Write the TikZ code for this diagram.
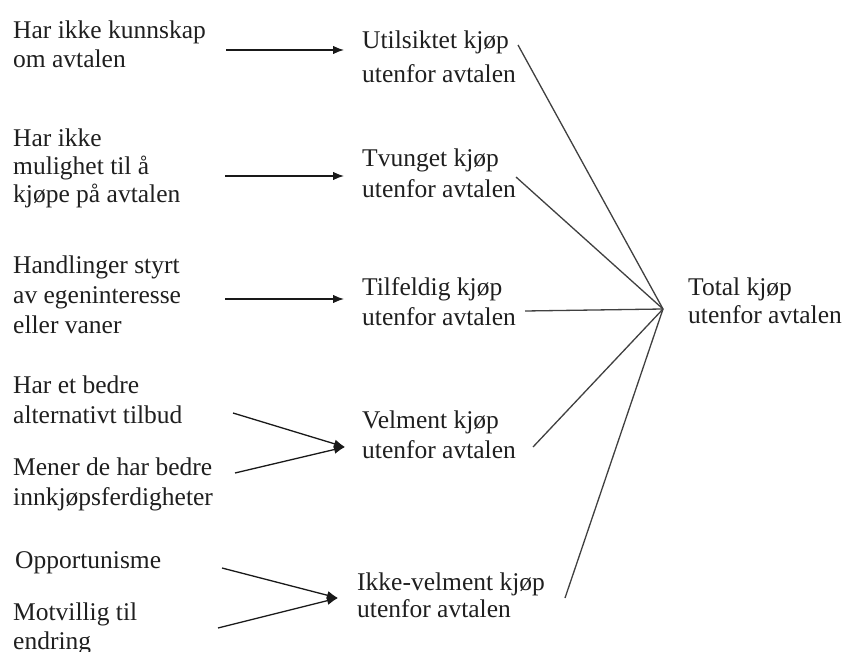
\documentclass[tikz,border=0pt]{standalone}
\usepackage{fontspec}
\setmainfont{Liberation Serif}
\usetikzlibrary{arrows.meta}
\tikzset{
  txt/.style={anchor=base west, inner sep=0pt, align=left, text=black!88,
    font=\fontsize{25.5}{30}\selectfont},
  arr/.style={line width=1.3pt, black!90, -{Latex[length=11pt,width=8.5pt]}},
  conn/.style={line width=1.3pt, black!75},
}
\begin{document}
\begin{tikzpicture}[x=1pt,y=-1pt]
\useasboundingbox[fill=white] (0,0) rectangle (845,652);
% left column (anchor = baseline of last line)
\node[txt] (L1) at (13,68) {Har ikke kunnskap\\[-1pt]om avtalen};
\node[txt] (L2) at (13,203) {Har ikke\\[-2pt]mulighet til å\\[-2pt]kjøpe på avtalen};
\node[txt] (L3) at (13,333) {Handlinger styrt\\av egeninteresse\\eller vaner};
\node[txt] (L4a) at (13,423) {Har et bedre\\alternativt tilbud};
\node[txt] (L4b) at (13,505) {Mener de har bedre\\innkjøpsferdigheter};
\node[txt] (L5a) at (15,568) {Opportunisme};
\node[txt] (L5b) at (13,649) {Motvillig til\\[-1pt]endring};
% middle column
\node[txt] (M1) at (362,83) {Utilsiktet kjøp\\[4pt]utenfor avtalen};
\node[txt] (M2) at (362,198) {Tvunget kjøp\\[1pt]utenfor avtalen};
\node[txt] (M3) at (362,325) {Tilfeldig kjøp\\utenfor avtalen};
\node[txt] (M4) at (362,458) {Velment kjøp\\utenfor avtalen};
\node[txt] (M5) at (357,617) {Ikke-velment kjøp\\[-3pt]utenfor avtalen};
% right
\node[txt] (T) at (688,323) {Total kjøp\\[-2pt]utenfor avtalen};
% connector end points
\coordinate (L1o) at (226,50);   \coordinate (M1i) at (344,50);
\coordinate (L2o) at (225,176);  \coordinate (M2i) at (344,176);
\coordinate (L3o) at (225,299);  \coordinate (M3i) at (344,299);
\coordinate (L4ao) at (233,413); \coordinate (L4bo) at (235,473); \coordinate (M4i) at (345,447);
\coordinate (L5ao) at (222,568); \coordinate (L5bo) at (218,628); \coordinate (M5i) at (338,598);
\coordinate (M1o) at (518,45);
\coordinate (M2o) at (516,177);
\coordinate (M3o) at (525,311);
\coordinate (M4o) at (533,447);
\coordinate (M5o) at (565,598);
\coordinate (C) at (663,309);
% arrows
\draw[arr] (L1o) -- (M1i);
\draw[arr] (L2o) -- (M2i);
\draw[arr] (L3o) -- (M3i);
\draw[arr] (L4ao) -- (M4i);
\draw[arr] (L4bo) -- (M4i);
\draw[arr] (L5ao) -- (M5i);
\draw[arr] (L5bo) -- (M5i);
% converging lines
\draw[conn] (M1o) -- (C);
\draw[conn] (M2o) -- (C);
\draw[conn] (M3o) -- (C);
\draw[conn] (M4o) -- (C);
\draw[conn] (M5o) -- (C);
\end{tikzpicture}
\end{document}
